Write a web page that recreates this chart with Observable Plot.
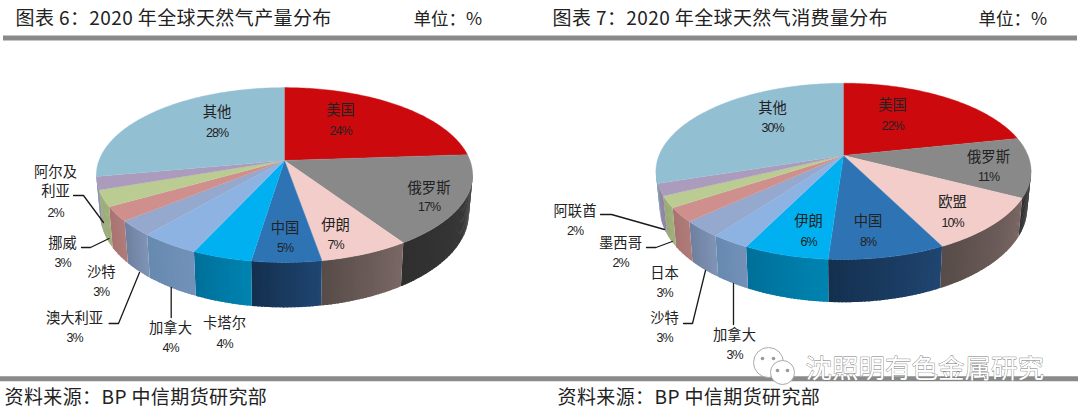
<!DOCTYPE html>
<html><head><meta charset="utf-8">
<script src="https://cdn.jsdelivr.net/npm/d3@7"></script>
<script src="https://cdn.jsdelivr.net/npm/@observablehq/plot@0.6"></script>
<style>html,body{margin:0;padding:0;background:#fff}svg{display:block}</style>
</head><body><div id="chart"></div>
<script>
// ---- data (shares; labels show them rounded) ----
const prodNames = ["美国","俄罗斯","伊朗","中国","卡塔尔","加拿大","澳大利亚","沙特","挪威","阿尔及利亚","其他"];
const prodValues = [23.9,16.8,6.6,5.1,4.4,4.4,2.8,2.7,3.0,2.4,27.9];
const consNames = ["美国","俄罗斯","欧盟","中国","伊朗","加拿大","沙特","日本","墨西哥","阿联酋","其他"];
const consValues = [21.7,10.9,10,8.49,6.21,2.8,3,2.6,2.1,2.2,30];
const titleLeft = "图表 6：2020 年全球天然气产量分布";
const titleRight = "图表 7：2020 年全球天然气消费量分布";
const unitText = "单位：%";
const sourceText = "资料来源：BP 中信期货研究部";
const watermarkText = "沈照明有色金属研究";

// ---- styles ----
const topColors = ["#cc0a0e","#898989","#f2cdc9","#2e74b5","#00b0f0","#8db3e2","#95a9ce","#cf908d","#bbcc93","#ab9cbd","#93bfd3"];
const sideFrom  = ["#8a0608","#414141","#7a6764","#1f4570","#0083b0","#7391b8","#7f93b5","#b07c79","#a0b07c","#8f82a3","#7aa0b2"];
const sideTo    = ["#7a0506","#2f2f2f","#574c49","#14304f","#00709a","#668ab0","#6f80a0","#a87371","#98a874","#877a9a","#7aa0b2"];

// ---- layout ----
const pieLeft  = {cx:284, cy:160, rx:185.5, ry:85, k:0.166, depth:37.5, shrink:0.98};
const pieRight = {cx:843, cy:155, rx:184.5, ry:85.3, k:0.18, depth:35, shrink:0.98};
const labelsLeft = {
  "美国":[340,110,130],"俄罗斯":[428.5,188,206],"伊朗":[335,225,244],"中国":[284.5,228,247],
  "卡塔尔":[224,323,343],"加拿大":[170,328,347],"澳大利亚":[74,318,337],"沙特":[100.7,272,291],
  "挪威":[62,243,262],"其他":[216.5,112,132]
};
const labelsRight = {
  "美国":[892,105,125],"俄罗斯":[988,157,176],"欧盟":[952,202,222],"中国":[867.6,221,241],
  "伊朗":[808,221,241],"加拿大":[734,335,354],"沙特":[664,318,337],"日本":[664,273,292],
  "墨西哥":[620,243,262],"阿联酋":[574.5,211,230],"其他":[772,108,127]
};
const leaders = [
  [[73,195],[83,195],[103,222]],[[81,247],[90,247],[108.6,238]],
  [[108.6,323],[118,323],[139,272]],[[170.7,287],[170.7,317]],
  [[600,214],[611,214],[664,229]],[[646,247],[655.5,247],[671.7,241]],
  [[683,323],[692,323],[705,270]],[[733,283],[733,324]]
];

function piePolys(values, p, tag){
  const total = d3.sum(values);
  const tops = [], sides = [];
  const project = t => {
    const u = Math.sin(t), v = -Math.cos(t), den = 1 - p.k*v;
    return {x:p.cx + p.rx*u/den, y:p.cy + p.ry*v/den, v};
  };
  const lower = t => {
    const a = project(t), den = 1 - p.k*a.v;
    return {x:p.cx + (a.x-p.cx)*p.shrink, y:a.y + p.depth/den};
  };
  let acc = 0;
  values.forEach((val,i) => {
    const t0 = acc/total*2*Math.PI, t1 = (acc+val)/total*2*Math.PI;
    acc += val;
    const n = Math.max(2, Math.ceil((t1-t0)/(Math.PI/180)));
    const id = `${tag}-${i}`;
    tops.push({id,c:topColors[i],x:p.cx,y:p.cy});
    for(let j=0;j<=n;j++){ const q = project(t0+(t1-t0)*j/n); tops.push({id,c:topColors[i],x:q.x,y:q.y}); }
    const mix = d3.interpolateRgb(sideFrom[i],sideTo[i]);
    for(let j=0;j<n;j++){
      const a = t0+(t1-t0)*j/n;
      const b = Math.min(t1, t0+(t1-t0)*(j+1.6)/n);   // overlap the next strip to hide seams
      if(-Math.cos(a) < p.k*0.9 && -Math.cos(b) < p.k*0.9) continue;
      const c = d3.color(mix(j/(n-1||1))).formatHex();
      const sid = `${id}-s${j}`;
      [project(a),project(b),lower(b),lower(a)].forEach(q => sides.push({id:sid,c,x:q.x,y:q.y}));
    }
  });
  return {tops,sides};
}

const L = piePolys(prodValues,pieLeft,"L"), R = piePolys(consValues,pieRight,"R");
const sides = [...L.sides,...R.sides], tops = [...L.tops,...R.tops];

const labelRows = [];
function addLabels(names,values,layout){
  names.forEach((n,i)=>{
    const l = layout[n]; if(!l) return;
    labelRows.push({t:n,x:l[0],y:l[1],cjk:true});
    labelRows.push({t:Math.round(values[i])+"%",x:l[0],y:l[2],cjk:false});
  });
}
addLabels(prodNames,prodValues,labelsLeft);
addLabels(consNames,consValues,labelsRight);
labelRows.push({t:"阿尔及",x:55,y:172,cjk:true},{t:"利亚",x:55,y:191,cjk:true},{t:Math.round(prodValues[9])+"%",x:55,y:212,cjk:false});

const leaderRows = leaders.flatMap((pts,i)=>pts.map(q=>({id:i,x:q[0],y:q[1]})));
const cjk = "'Noto Sans CJK SC','Noto Sans',sans-serif";
const arial = "'Liberation Sans',Arial,sans-serif";

const headRows = [{t:titleLeft,x:15,y:18.5},{t:titleRight,x:552,y:18.5}];
const unitRows = [{t:unitText,x:413,y:18.5},{t:unitText,x:978,y:18.5}];
const footRows = [{t:sourceText,x:4,y:397},{t:sourceText,x:557,y:397}];

const chart = Plot.plot({
  width:1080,height:418,margin:0,
  x:{domain:[0,1080],range:[0,1080],axis:null},
  y:{domain:[0,418],range:[0,418],axis:null},
  r:{type:"identity"},
  marks:[
    Plot.ruleY([37.5],{x1:3,x2:1077,stroke:"#8a8a8a",strokeWidth:5}),
    Plot.ruleY([378.3],{x1:0,x2:1078,stroke:"#8a8a8a",strokeWidth:5}),
    Plot.line(sides,{x:"x",y:"y",z:"id",fill:d=>d.c,stroke:"none"}),
    Plot.line(tops,{x:"x",y:"y",z:"id",fill:d=>d.c,stroke:d=>d.c,strokeWidth:0.4}),
    Plot.line(leaderRows,{x:"x",y:"y",z:"id",stroke:"#1a1a1a",strokeWidth:1.3}),
    Plot.text(labelRows.filter(d=>d.cjk),{x:"x",y:"y",text:"t",fontFamily:cjk,fontSize:14.3,fill:"#222"}),
    Plot.text(labelRows.filter(d=>!d.cjk),{x:"x",y:"y",text:"t",fontFamily:arial,fontSize:12.5,fill:"#222"}),
    Plot.text(headRows,{x:"x",y:"y",text:"t",textAnchor:"start",fontFamily:cjk,fontSize:19,fill:"#222"}),
    Plot.text(unitRows,{x:"x",y:"y",text:"t",textAnchor:"start",fontFamily:cjk,fontSize:17.5,fill:"#222"}),
    Plot.text(footRows,{x:"x",y:"y",text:"t",textAnchor:"start",fontFamily:cjk,fontSize:19,fill:"#222"}),
    // watermark
    Plot.dot([{x:768,y:362,r:15},{x:782,y:372,r:12}],{x:"x",y:"y",r:"r",fill:"#fff",stroke:"#aaa",strokeWidth:1}),
    Plot.dot([{x:762,y:358},{x:773,y:358},{x:777,y:370},{x:787,y:370}],{x:"x",y:"y",r:1.8,fill:"#999"}),
    Plot.text([{t:watermarkText,x:805,y:369}],{x:"x",y:"y",text:"t",textAnchor:"start",fontFamily:cjk,fontSize:26.5,fill:"#fff",stroke:"#777",strokeWidth:0.8,paintOrder:"stroke"})
  ]
});
chart.querySelectorAll("text").forEach(el => {
  const s = el.textContent;
  if (s.startsWith("图表") || s.startsWith("资料")) el.style.letterSpacing = "0.4px";
  else if (/^\d+%$/.test(s)) el.style.letterSpacing = "-1px";
});
document.getElementById("chart").append(chart);
</script></body></html>
